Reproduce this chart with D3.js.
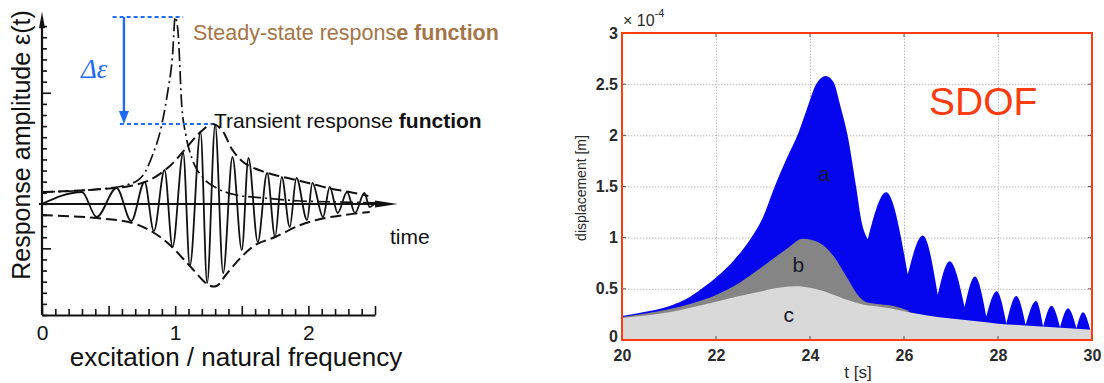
<!DOCTYPE html>
<html><head><meta charset="utf-8">
<script src="https://cdn.jsdelivr.net/npm/d3@7"></script>
<style>
html,body{margin:0;padding:0;background:#fff;}
svg{display:block;font-family:"Liberation Sans",Arial,Helvetica,sans-serif;}
</style></head><body>
<svg id="chart" width="1104" height="383"></svg>
<script>
// ---------------- LEFT PANEL DATA ----------------
// x: excitation / natural frequency ratio ; y: amplitude in axis-tick units
const transientR = [0,0.30,0.41,0.56,0.67,0.77,0.84,0.92,0.98,1.06,1.11,1.19,1.24,1.30,1.36,1.43,1.50,1.55,1.62,1.69,1.75,1.80,1.86,1.91,1.99,2.03,2.11,2.16,2.22,2.29,2.35,2.42,2.46,2.50];
const transientA = [0,1.07,-1.18,1.43,-1.54,1.97,-2.44,3.05,-3.88,4.58,-5.59,6.47,-7.12,7.10,-6.22,4.22,-4.15,4.13,-3.43,2.78,-2.98,2.42,-2.08,2.33,-1.45,1.88,-1.18,1.52,-0.82,1.07,-0.82,0.98,-0.28,0.08];
const upperEnvR = [0,0.36,0.66,0.81,0.96,1.07,1.19,1.28,1.35,1.43,1.52,1.67,1.81,1.94,2.06,2.18,2.31,2.45];
const upperEnvA = [1.07,1.25,1.61,2.15,3.41,4.85,6.47,7.19,6.65,4.85,3.68,2.87,2.42,2.06,1.70,1.34,1.07,0.71];
const lowerEnvR = [0,0.41,0.68,0.83,0.96,1.11,1.25,1.31,1.38,1.49,1.60,1.75,1.94,2.09,2.27,2.46];
const lowerEnvA = [-1.0,-1.27,-1.72,-2.53,-3.70,-5.59,-7.30,-7.39,-6.40,-4.87,-3.70,-2.98,-1.90,-1.36,-1.0,-0.73];
const steadyR = [0,0.44,0.66,0.76,0.83,0.89,0.94,0.98,1.0,1.02,1.05,1.08,1.13,1.21,1.31,1.46,1.67,1.94,2.24,2.58];
const steadyA = [1.07,1.34,1.79,2.60,4.40,6.65,9.80,13.40,16.82,15.65,8.72,6.20,3.95,2.33,1.43,0.80,0.53,0.26,0.17,0.08];
const leftXTickLabels = [0,1,2];
const leftXMinorTicks = d3.range(0, 26).map(i => i / 10);
const leftYMinorTicks = d3.range(-10, 17);

// ---------------- RIGHT PANEL DATA (displacement in 1e-4 m) ----------------
const timeA = [20,20.5,21,21.3,21.6,22,22.4,22.75,23.0,23.25,23.5,23.75,23.95,24.13,24.34,24.5,24.65,24.8,24.98,25.1,25.23,25.62,26.08,26.40,26.72,26.97,27.29,27.51,27.75,27.97,28.18,28.39,28.59,28.81,28.96,29.14,29.32,29.49,29.67,29.81,29.96];
const dispA = [0.235,0.275,0.33,0.385,0.47,0.61,0.79,1.00,1.20,1.50,1.77,2.02,2.28,2.50,2.58,2.52,2.28,2.00,1.50,1.15,0.985,1.445,0.64,1.02,0.44,0.77,0.32,0.62,0.23,0.476,0.16,0.43,0.15,0.38,0.13,0.335,0.125,0.31,0.115,0.27,0.105];
const timeB = [20,20.5,21,21.5,22,22.5,23,23.5,23.85,24.2,24.5,24.8,25.0,25.2,25.5,25.8,26.1];
const dispB = [0.225,0.26,0.30,0.36,0.44,0.56,0.72,0.89,0.99,0.95,0.82,0.60,0.45,0.37,0.35,0.33,0.285];
const timeC = [20,20.5,21,21.5,22,22.5,23,23.4,23.7,24.0,24.4,24.8,25.1,25.4,25.7,26,26.5,27,27.5,28,28.5,29,29.5,30];
const dispC = [0.215,0.24,0.27,0.32,0.375,0.43,0.48,0.515,0.525,0.51,0.46,0.39,0.35,0.33,0.31,0.28,0.24,0.21,0.185,0.16,0.145,0.13,0.115,0.10];
const rightXTicks = [20,22,24,26,28,30];
const rightYTicks = [0,0.5,1,1.5,2,2.5,3];
const rightYTickLabels = ["0","0.5","1","1.5","2","2.5","3"];
const seriesLabels = ["a","b","c"];

const svg = d3.select("#chart");
const zip = (xs, ys) => xs.map((x, i) => [x, ys[i]]);

// ================= LEFT PANEL =================
const xL = d3.scaleLinear().domain([0, 2.5]).range([42, 375]);
const yL = d3.scaleLinear().domain([-10, 17]).range([315, 15]);
const L = svg.append("g");

const yAx = L.append("g").attr("transform", `translate(${xL(0)},0)`)
  .call(d3.axisRight(yL).tickValues(leftYMinorTicks).tickSizeInner(5).tickSizeOuter(0).tickFormat(""));
yAx.select(".domain").remove();
yAx.selectAll(".tick line").attr("stroke", "#111").attr("stroke-width", 1.6)
  .attr("x2", d => (d === 10 || d === -4) ? 9 : 5);
L.append("line").attr("x1", xL(0)).attr("x2", xL(0)).attr("y1", yL(-10)).attr("y2", yL(16.3))
  .attr("stroke", "#111").attr("stroke-width", 2.2);
L.append("path").attr("d", `M${xL(0)},${yL(17.3)} L${xL(0)-3},${yL(15.8)} L${xL(0)+3},${yL(15.8)} Z`).attr("fill", "#111");

const xAx = L.append("g").attr("transform", `translate(0,${yL(-10)})`)
  .call(d3.axisBottom(xL).tickValues(leftXMinorTicks).tickSizeInner(-6).tickSizeOuter(0).tickPadding(10)
    .tickFormat(d => leftXTickLabels.includes(d) ? String(d) : ""));
xAx.select(".domain").attr("stroke", "#111").attr("stroke-width", 2.2);
xAx.selectAll(".tick line").attr("stroke", "#111").attr("stroke-width", 1.6)
  .attr("y2", d => (Math.abs(d * 2 - Math.round(d * 2)) < 1e-6) ? -9 : -6);
xAx.selectAll(".tick text").attr("font-size", 21).attr("fill", "#111").attr("font-family", "Liberation Sans, Arial, sans-serif");

L.append("line").attr("x1", xL(0) - 3).attr("x2", xL(2.52)).attr("y1", yL(0)).attr("y2", yL(0))
  .attr("stroke", "#111").attr("stroke-width", 2);
L.append("path").attr("d", `M${xL(2.67)},${yL(0)} L${xL(2.5)},${yL(0)-3.5} L${xL(2.5)},${yL(0)+3.5} Z`).attr("fill", "#111");

L.append("path").datum(zip(transientR, transientA))
  .attr("d", d3.line().x(d => xL(d[0])).y(d => yL(d[1])).curve(d3.curveMonotoneX))
  .attr("fill", "none").attr("stroke", "#111").attr("stroke-width", 1.8);
L.append("path").datum(zip(upperEnvR, upperEnvA))
  .attr("d", d3.line().x(d => xL(d[0])).y(d => yL(d[1])).curve(d3.curveCatmullRom.alpha(0.5)))
  .attr("fill", "none").attr("stroke", "#111").attr("stroke-width", 2).attr("stroke-dasharray", "11,5");
L.append("path").datum(zip(lowerEnvR, lowerEnvA))
  .attr("d", d3.line().x(d => xL(d[0])).y(d => yL(d[1])).curve(d3.curveCatmullRom.alpha(0.5)))
  .attr("fill", "none").attr("stroke", "#111").attr("stroke-width", 2).attr("stroke-dasharray", "11,5");
L.append("path").datum(zip(steadyR, steadyA))
  .attr("d", d3.line().x(d => xL(d[0])).y(d => yL(d[1])).curve(d3.curveMonotoneX))
  .attr("fill", "none").attr("stroke", "#111").attr("stroke-width", 1.7).attr("stroke-dasharray", "13,4,2,4");

const blue = "#1f6bf5";
const steadyPeak = d3.max(steadyA), transientPeak = d3.max(upperEnvA);
L.append("line").attr("x1", xL(0.53)).attr("x2", xL(1.06)).attr("y1", yL(steadyPeak)).attr("y2", yL(steadyPeak))
  .attr("stroke", blue).attr("stroke-width", 1.8).attr("stroke-dasharray", "4,3");
L.append("line").attr("x1", xL(0.585)).attr("x2", xL(1.28)).attr("y1", yL(transientPeak)).attr("y2", yL(transientPeak))
  .attr("stroke", blue).attr("stroke-width", 1.8).attr("stroke-dasharray", "4,3");
const ax = xL(0.615);
L.append("line").attr("x1", ax).attr("x2", ax).attr("y1", yL(steadyPeak)).attr("y2", yL(transientPeak) - 10)
  .attr("stroke", blue).attr("stroke-width", 2.4);
L.append("path").attr("d", `M${ax},${yL(transientPeak)} L${ax-5},${yL(transientPeak)-13} L${ax+5},${yL(transientPeak)-13} Z`).attr("fill", blue);
L.append("text").attr("x", 81).attr("y", 78).attr("fill", blue).attr("font-size", 27)
  .attr("font-family", "Liberation Serif, Times New Roman, serif").attr("font-style", "italic").text("Δε");

const st = L.append("text").attr("x", 193).attr("y", 40).attr("font-size", 21.5).attr("fill", "#a57548");
st.append("tspan").text("Steady-state respons");
st.append("tspan").attr("font-weight", "bold").text("e function");
const tr = L.append("text").attr("x", 214).attr("y", 128).attr("font-size", 21).attr("fill", "#111");
tr.append("tspan").text("Transient response ");
tr.append("tspan").attr("font-weight", "bold").text("function");
L.append("text").attr("x", 390).attr("y", 244).attr("font-size", 21).attr("fill", "#111").text("time");
L.append("text").attr("transform", "translate(30,145) rotate(-90)").attr("text-anchor", "middle")
  .attr("font-size", 25).attr("fill", "#111").text("Response amplitude ε(t)");
L.append("text").attr("x", 236).attr("y", 366).attr("text-anchor", "middle")
  .attr("font-size", 26).attr("fill", "#111").text("excitation / natural  frequency");

// ================= RIGHT PANEL =================
const xR = d3.scaleLinear().domain([20, 30]).range([622, 1092]);
const yR = d3.scaleLinear().domain([0, 3]).range([340, 33]);
const R = svg.append("g");
const red = "#ff3b10";

const gx = R.append("g").attr("transform", `translate(0,${yR(0)})`)
  .call(d3.axisBottom(xR).tickValues(rightXTicks.slice(1, -1)).tickSize(-(yR(0) - yR(3))).tickFormat(""));
gx.select(".domain").remove();
gx.selectAll("line").attr("stroke", "#bdbdbd").attr("stroke-dasharray", "1.5,1.5");
const gy = R.append("g").attr("transform", `translate(${xR(20)},0)`)
  .call(d3.axisLeft(yR).tickValues(rightYTicks.slice(1, -1)).tickSize(-(xR(30) - xR(20))).tickFormat(""));
gy.select(".domain").remove();
gy.selectAll("line").attr("stroke", "#bdbdbd").attr("stroke-dasharray", "1.5,1.5");

// series a: one path, lobes split at local minima so troughs stay sharp
const lineR = d3.line().x(d => xR(d[0])).y(d => yR(d[1])).curve(d3.curveMonotoneX);
const ptsA = zip(timeA, dispA);
const cuts = [0];
for (let i = 1; i < ptsA.length - 1; i++) if (dispA[i] < dispA[i - 1] && dispA[i] < dispA[i + 1]) cuts.push(i);
cuts.push(ptsA.length - 1);
let dA = "";
for (let k = 0; k < cuts.length - 1; k++) {
  let s = lineR(ptsA.slice(cuts[k], cuts[k + 1] + 1));
  if (k > 0) s = "L" + s.slice(1);
  dA += s;
}
dA += `L${xR(timeA[timeA.length - 1])},${yR(0)}L${xR(timeA[0])},${yR(0)}Z`;
R.append("path").attr("d", dA).attr("fill", "#0606ee");

const areaR = d3.area().x(d => xR(d[0])).y0(yR(0)).y1(d => yR(d[1])).curve(d3.curveMonotoneX);
R.append("path").datum(zip(timeB, dispB)).attr("d", areaR).attr("fill", "#858585");
R.append("path").datum(zip(timeC, dispC)).attr("d", areaR).attr("fill", "#d9d9d9");

rightXTicks.forEach(t => {
  R.append("line").attr("x1", xR(t)).attr("x2", xR(t)).attr("y1", yR(0)).attr("y2", yR(0) - 4).attr("stroke", "#555");
  R.append("line").attr("x1", xR(t)).attr("x2", xR(t)).attr("y1", yR(3)).attr("y2", yR(3) + 4).attr("stroke", "#555");
});
rightYTicks.forEach(v => {
  R.append("line").attr("x1", xR(20)).attr("x2", xR(20) + 4).attr("y1", yR(v)).attr("y2", yR(v)).attr("stroke", "#555");
  R.append("line").attr("x1", xR(30)).attr("x2", xR(30) - 4).attr("y1", yR(v)).attr("y2", yR(v)).attr("stroke", "#555");
});

R.append("rect").attr("x", xR(20)).attr("y", yR(3)).attr("width", xR(30) - xR(20)).attr("height", yR(0) - yR(3))
  .attr("fill", "none").attr("stroke", red).attr("stroke-width", 2);

const axX = R.append("g").attr("transform", `translate(0,${yR(0)})`)
  .call(d3.axisBottom(xR).tickValues(rightXTicks).tickSize(0).tickPadding(10).tickFormat(d3.format("d")));
axX.select(".domain").remove();
axX.selectAll("text").attr("font-size", 16).attr("font-weight", "bold").attr("fill", "#2a2a2a")
  .attr("font-family", "Liberation Sans, Arial, sans-serif");
const axY = R.append("g").attr("transform", `translate(${xR(20)},0)`)
  .call(d3.axisLeft(yR).tickValues(rightYTicks).tickSize(0).tickPadding(4).tickFormat((d, i) => rightYTickLabels[i]));
axY.select(".domain").remove();
axY.selectAll("text").attr("font-size", 16).attr("font-weight", "bold").attr("fill", "#2a2a2a")
  .attr("font-family", "Liberation Sans, Arial, sans-serif");
axY.selectAll(".tick").filter(d => d === 0).select("text").attr("dy", "0.1em");

const ex = R.append("text").attr("x", 623).attr("y", 26).attr("font-size", 16).attr("fill", "#2a2a2a");
ex.append("tspan").text("× 10");
ex.append("tspan").attr("font-size", 11).attr("dy", -9).text("-4");
R.append("text").attr("x", 858).attr("y", 378).attr("text-anchor", "middle").attr("font-size", 17)
  .attr("fill", "#2a2a2a").text("t [s]");
R.append("text").attr("transform", "translate(586,188) rotate(-90)").attr("text-anchor", "middle")
  .attr("font-size", 14).attr("fill", "#2a2a2a").text("displacement [m]");
R.append("text").attr("x", 929).attr("y", 115).attr("font-size", 39).attr("fill", red).text("SDOF");

const labelPos = [[24.3, 1.55], [23.75, 0.66], [23.55, 0.18]];
seriesLabels.forEach((s, i) => {
  R.append("text").attr("x", xR(labelPos[i][0])).attr("y", yR(labelPos[i][1])).attr("text-anchor", "middle")
    .attr("font-size", 21).attr("fill", "#1a1a2a").text(s);
});
</script>
</body></html>
